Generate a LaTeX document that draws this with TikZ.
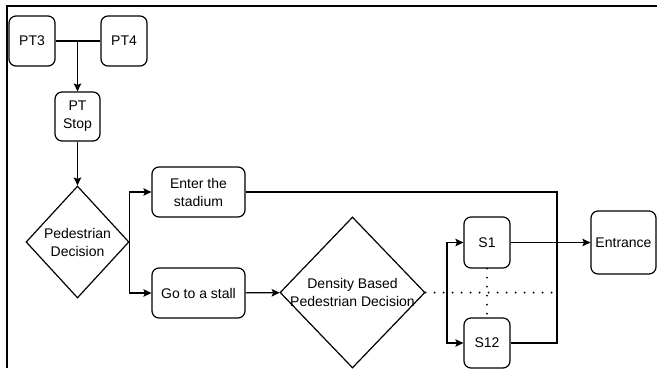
\documentclass[tikz,border=0pt]{standalone}
\usepackage{fontspec}
\setmainfont{Liberation Sans}
\usetikzlibrary{shapes.geometric,arrows.meta}

\begin{document}
\begin{tikzpicture}[x=1pt,y=-1pt,font=\fontsize{14pt}{18pt}\selectfont]
        \useasboundingbox (0,0) rectangle (657,368);
        \draw[line width=2.2pt] (7,368) -- (7,6) -- (657,6);
        \begin{scope}[every node/.style={draw, line width=1.2pt, rounded corners=7pt, align=center, inner sep=1pt}]
                \node[minimum width=46pt, minimum height=50pt] (PT3) at (32,41) {PT3};
                \node[minimum width=46pt, minimum height=50pt] (PT4) at (124,41) {PT4};
                \node[minimum width=45pt, minimum height=49pt] (Stop) at (77.5,116.5) {PT\\Stop};
                \node[minimum width=93pt, minimum height=50pt] (Enter) at (198.5,192) {Enter the\\stadium};
                \node[minimum width=93pt, minimum height=50pt] (Stall) at (198.5,293) {Go to a stall};
                \node[minimum width=46pt, minimum height=51pt] (S1) at (487,242.5) {S1};
                \node[minimum width=46pt, minimum height=50pt] (S12) at (487,343) {S12};
                \node[minimum width=65pt, minimum height=63pt] (Ent) at (623.5,242.5) {Entrance};
        \end{scope}
        \begin{scope}[every node/.style={draw, diamond, line width=1.2pt, align=center, inner sep=0pt}]
                \node[minimum width=103pt, minimum height=112pt] (Dec) at (77.5,242) {Pedestrian\\Decision};
                \node[minimum width=145pt, minimum height=151pt, inner sep=-7pt] (Dens) at (352.5,292.5) {Density Based\\Pedestrian Decision};
        \end{scope}
        \coordinate (Br) at (447,292.5);
        \coordinate (Rail) at (557,292.5);
        \begin{scope}[every path/.style={line width=1.2pt, >={Stealth[length=8pt,width=7.5pt,inset=1.5pt]}},
                      dotline/.style={line width=2.2pt, line cap=round, dash pattern=on 0pt off 9pt}]
                \draw (PT3) -- (PT4);
                \draw[->] (PT3 -| Stop) -- (Stop);
                \draw[->] (Stop) -- (Dec);
                \draw[->] (Dec.east) |- (Enter);
                \draw[->] (Dec.east) |- (Stall);
                \draw[->] (Stall) -- (Dens);
                \draw[dotline] (Dens.east) -- (Rail);
                \draw[dotline] (S1) -- (S12);
                \draw[->] (Br) |- (S1);
                \draw[->] (Br) |- (S12);
                \draw[->] (S1) -- (Ent);
                \draw (Enter) -| (Rail) |- (S12);
        \end{scope}
\end{tikzpicture}
\end{document}
